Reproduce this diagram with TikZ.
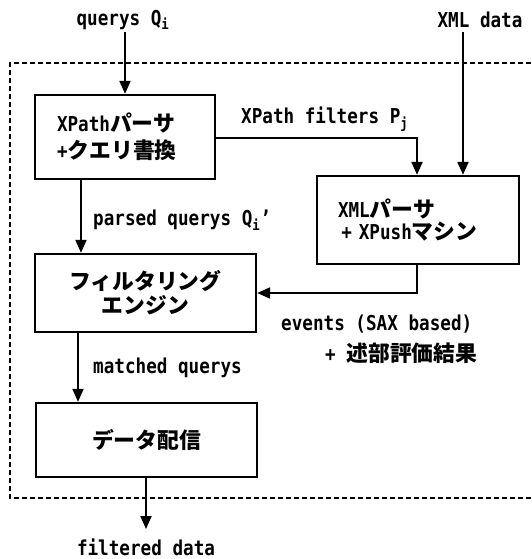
\documentclass[tikz,border=0pt]{standalone}
\usepackage{fontspec}
\setmainfont{DejaVu Sans Mono}[FakeStretch=0.86]
\newfontfamily\jpfont{Noto Sans CJK JP}
\usetikzlibrary{arrows.meta}
\newcommand{\jt}[1]{{\jpfont\bfseries\fontsize{21.8}{24}\selectfont #1}}
\begin{document}
\begin{tikzpicture}[x=1pt,y=-1pt,
  font=\bfseries\fontsize{20.5}{24}\selectfont,
  box/.style={draw,line width=2.3pt,inner sep=0pt,align=center},
  arr/.style={line width=2pt,-{Triangle[length=13pt,width=11pt]}},
  lbl/.style={inner sep=0pt}]
\useasboundingbox (0,0) rectangle (531,559);
% dashed frame
\draw[line width=1.3pt,dash pattern=on 5pt off 3pt] (531,63) -- (10,63) -- (10,498) -- (531,498);
% boxes
\node[box,minimum width=180pt,minimum height=84pt,text width=136pt,align=left] (b1) at (125,137)
  {XPath\jt{パーサ}\\[3pt]+\jt{クエリ書換}};
\node[box,minimum width=202pt,minimum height=88pt,text width=160pt,align=left] (b2) at (418,220)
  {XML\jt{パーサ}\\[-2pt]\,+ XPush\jt{マシン}};
\node[box,minimum width=221pt,minimum height=78pt] (b3) at (145.5,293)
  {\jt{フィルタリング}\\[0pt]\jt{エンジン}};
\node[box,minimum width=221pt,minimum height=74pt] (b4) at (146.5,440)
  {\jt{データ配信}};
% labels
\node[lbl] (qin) at (123,20) {querys Q\textsubscript{i}};
\node[lbl] (xin) at (480,20) {XML data};
\node[lbl] (fout) at (146,547) {filtered data};
\node[lbl,anchor=west] (lxf) at (241,119) {XPath filters P\textsubscript{j}};
\node[lbl,anchor=west] (lpq) at (93,220) {parsed querys Q\textsubscript{i}'};
\node[lbl,anchor=west] (lev) at (281,324) {events (SAX based)};
\node[lbl,anchor=west] (lpr) at (325,353) {+ \jt{述部評価結果}};
\node[lbl,anchor=west] (lmq) at (93,368) {matched querys};
% coordinates
\coordinate (qtop) at (125,32);
\coordinate (xtop) at (463,32);
\coordinate (fend) at (146,529);
\coordinate (c1) at (417,138);
\coordinate (c2) at (417,293);
% connectors
\draw[arr] (qtop) -- (125,0 |- b1.north);
\draw[arr] (xtop) -- (463,0 |- b2.north);
\draw[arr] (b1.east |- c1) -- (c1) -- (417,0 |- b2.north);
\draw[arr] (81,0 |- b1.south) -- (81,0 |- b3.north);
\draw[arr] (417,0 |- b2.south) -- (c2) -- (b3.east |- c2);
\draw[arr] (78,0 |- b3.south) -- (78,0 |- b4.north);
\draw[arr] (146,0 |- b4.south) -- (fend);
\end{tikzpicture}
\end{document}
